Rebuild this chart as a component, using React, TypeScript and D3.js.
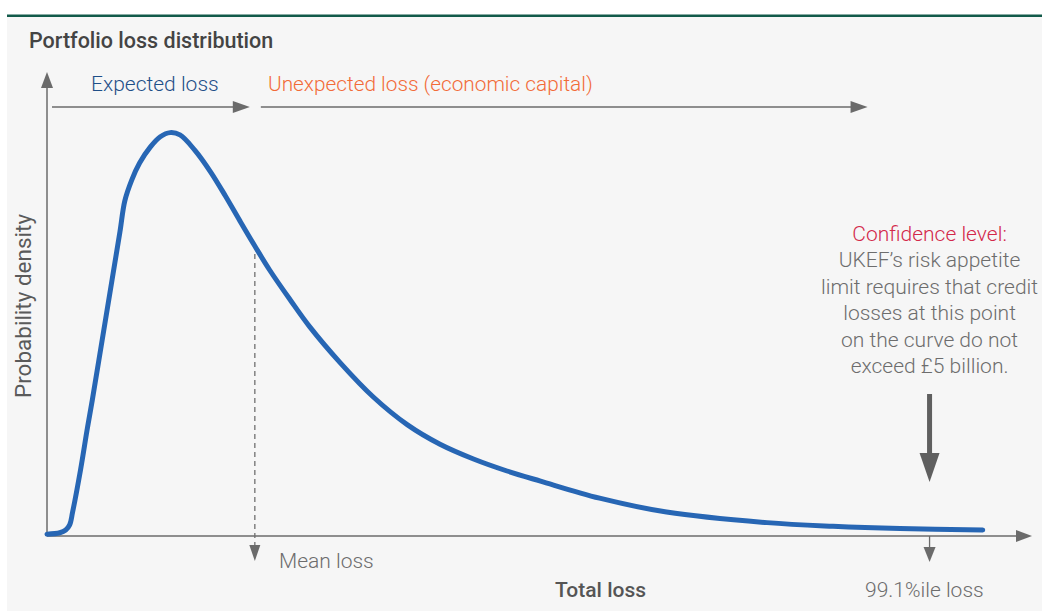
import React from 'react';
import * as d3 from 'd3';

// Curve (loss units 0-100, density 0-100)
const lossValues = [0, 1.3, 1.9, 2.3, 2.6, 3.4, 4.1, 4.6, 5.6, 6.6, 7.4, 7.9, 8.6, 9.4, 10.5, 11.5, 12.5, 13.5, 15.0, 16.6, 18.1, 19.6, 21.1, 22.6, 24.7, 26.7, 29.8, 33.1, 36.6, 39.9, 43.3, 46.7, 50.1, 56.1, 62.9, 73.1, 79.8, 86.6, 95.0];
const densityValues = [0.4, 0.7, 1.3, 2.4, 5.2, 14.3, 23.4, 29.5, 42.5, 55.5, 65.9, 72.7, 77.2, 80.9, 84.4, 86.6, 87.5, 87.0, 83.7, 79.0, 73.8, 68.3, 62.9, 57.7, 51.2, 45.3, 37.5, 30.2, 24.1, 19.9, 16.7, 14.1, 11.9, 8.2, 5.2, 2.9, 2.1, 1.6, 1.3];

const meanLoss = 21.1;
const percentileLoss = 89.6;

const titleText = 'Portfolio loss distribution';
const expectedLabel = 'Expected loss';
const unexpectedLabel = 'Unexpected loss (economic capital)';
const yAxisLabel = 'Probability density';
const xAxisLabel = 'Total loss';
const meanLabel = 'Mean loss';
const percentileLabel = '99.1%ile loss';
const confidenceTitle = 'Confidence level:';
const confidenceLines = [
  'UKEF\u2019s risk appetite',
  'limit requires that credit',
  'losses at this point',
  'on the curve do not',
  'exceed \u00a35 billion.',
];

const W = 1042;
const H = 611;
const AXIS = '#6b6b6b';
const LIGHT = "Roboto, 'Helvetica Neue', Arial, sans-serif";

export default function App() {
  const x = d3.scaleLinear().domain([0, 100]).range([47, 1032]);
  const y = d3.scaleLinear().domain([0, 100]).range([536, 75]);

  const pts: [number, number][] = lossValues.map((v, i) => [v, densityValues[i]]);
  const line = d3
    .line<[number, number]>()
    .x((d) => x(d[0]))
    .y((d) => y(d[1]))
    .curve(d3.curveCatmullRom.alpha(0.5));

  const densityAt = d3.scaleLinear().domain(lossValues).range(densityValues);

  const x0 = x(0);
  const y0 = y(0);
  const xEnd = x.range()[1];
  const yTop = 72;
  const arrowY = 107;
  const meanX = x(meanLoss);
  const pctX = x(percentileLoss);

  const triDown = (cx: number, top: number, h: number, w: number) =>
    `M${cx - w / 2},${top}L${cx + w / 2},${top}L${cx},${top + h}Z`;
  const triRight = (tip: number, cy: number, l: number, w: number) =>
    `M${tip - l},${cy - w / 2}L${tip},${cy}L${tip - l},${cy + w / 2}Z`;

  return (
    <svg
      width={W}
      height={H}
      style={{ position: 'absolute', left: 0, top: 0, display: 'block' }}
      fontFamily={LIGHT}
    >
      <rect x={0} y={0} width={W} height={H} fill="#ffffff" />
      <rect x={7} y={16} width={W - 7} height={H - 16} fill="#f6f6f6" />
      <rect x={7} y={14.5} width={W - 7} height={2.5} fill="#125a4a" />

      <text x={29} y={48} fontSize={21.5} fontWeight={500} fill="#444">
        {titleText}
      </text>

      {/* axes */}
      <line x1={x0} y1={y0} x2={x0} y2={yTop + 14} stroke={AXIS} strokeWidth={1.5} />
      <path d={`M${x0 - 6},${yTop + 16}L${x0},${yTop}L${x0 + 6},${yTop + 16}Z`} fill={AXIS} />
      <line x1={x0} y1={y0} x2={xEnd - 14} y2={y0} stroke={AXIS} strokeWidth={1.5} />
      <path d={triRight(xEnd, y0, 16, 12)} fill={AXIS} />

      {/* top arrows */}
      <line x1={52} y1={arrowY} x2={meanX - 20} y2={arrowY} stroke={AXIS} strokeWidth={1.5} />
      <path d={triRight(meanX - 5, arrowY, 17, 12)} fill={AXIS} />
      <line x1={meanX + 6} y1={arrowY} x2={pctX - 76} y2={arrowY} stroke={AXIS} strokeWidth={1.5} />
      <path d={triRight(pctX - 62, arrowY, 17, 12)} fill={AXIS} />

      <text x={91} y={91} fontSize={21} fontWeight={300} fill="#1f4f88">
        {expectedLabel}
      </text>
      <text x={268} y={91} fontSize={20.8} fontWeight={300} fill="#f26b38">
        {unexpectedLabel}
      </text>

      {/* mean loss marker */}
      <line
        x1={meanX}
        y1={y(densityAt(meanLoss)) + 8}
        x2={meanX}
        y2={546}
        stroke="#6f6f6f"
        strokeWidth={1.3}
        strokeDasharray="5,4"
      />
      <path d={triDown(meanX, 545, 16, 11)} fill={AXIS} />
      <text x={279} y={568} fontSize={21} fontWeight={300} fill="#6d6d6d">
        {meanLabel}
      </text>

      {/* 99.1 percentile marker */}
      <line x1={pctX} y1={y0} x2={pctX} y2={548} stroke={AXIS} strokeWidth={1.3} />
      <path d={triDown(pctX, 547, 15, 12)} fill={AXIS} />
      <text x={865} y={597} fontSize={21} fontWeight={300} fill="#6d6d6d">
        {percentileLabel}
      </text>

      <text x={555} y={597} fontSize={21} fontWeight={500} fill="#555">
        {xAxisLabel}
      </text>

      <text
        transform={`translate(31,306) rotate(-90)`}
        textAnchor="middle"
        fontSize={22.5}
        fontWeight={400}
        fill="#5a5a5a"
      >
        {yAxisLabel}
      </text>

      {/* curve */}
      <path
        d={line(pts) || ''}
        fill="none"
        stroke="#2766b4"
        strokeWidth={5}
        strokeLinecap="round"
        strokeLinejoin="round"
      />

      {/* confidence note */}
      <text textAnchor="middle" fontSize={21} fontWeight={300}>
        <tspan x={pctX} y={241} fill="#d3284a">
          {confidenceTitle}
        </tspan>
        {confidenceLines.map((t, i) => (
          <tspan key={i} x={pctX} y={241 + (i + 1) * 26.4} fill="#6d6d6d">
            {t}
          </tspan>
        ))}
      </text>
      <rect x={pctX - 2.5} y={394} width={5} height={62} fill="#5f5f5f" />
      <path d={triDown(pctX, 453, 29, 20)} fill="#5f5f5f" />
    </svg>
  );
}
